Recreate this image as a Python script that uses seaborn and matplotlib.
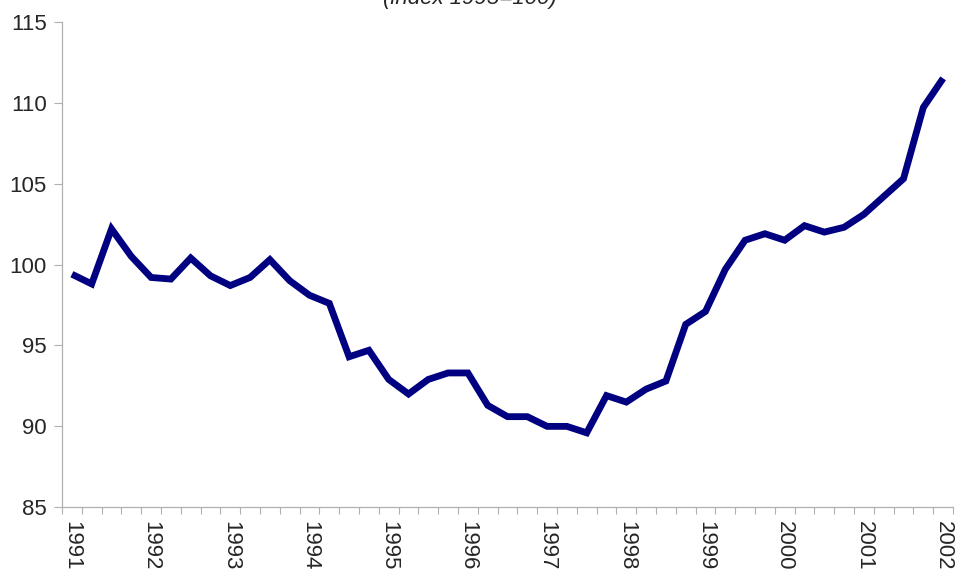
import matplotlib
matplotlib.use("Agg")
import matplotlib.pyplot as plt
import seaborn as sns
import pandas as pd
import numpy as np
from matplotlib.ticker import FixedLocator

# Quarterly index values, 1991Q1 - 2002Q1 (1995=100)
years = list(range(1991, 2003))
index_values = [
    99.4, 98.8, 102.2, 100.5, 99.2, 99.1, 100.4, 99.3,   # 1991-1992
    98.7, 99.2, 100.3, 99.0, 98.1, 97.6, 94.3, 94.7,     # 1993-1994
    92.9, 92.0, 92.9, 93.3, 93.3, 91.3, 90.6, 90.6,      # 1995-1996
    90.0, 90.0, 89.6, 91.9, 91.5, 92.3, 92.8, 96.3,      # 1997-1998
    97.1, 99.7, 101.5, 101.9, 101.5, 102.4, 102.0, 102.3,  # 1999-2000
    103.1, 104.2, 105.3, 109.7, 111.5,                    # 2001-2002Q1
]
title_text = "(index 1995=100)"
y_ticks = [85, 90, 95, 100, 105, 110, 115]

df = pd.DataFrame({"q": np.arange(len(index_values)), "value": index_values})

sns.set_style("white")
plt.rcParams["font.family"] = ["Liberation Sans", "DejaVu Sans"]

fig = plt.figure(figsize=(9.61, 5.70), dpi=100)
ax = fig.add_axes([62 / 961, 62.7 / 570, (953 - 62) / 961, (507.3 - 21.7) / 570])

sns.lineplot(data=df, x="q", y="value", ax=ax, color="#000080",
             linewidth=4.9, solid_joinstyle="miter", solid_capstyle="butt")

ax.set_xlim(-0.5, len(index_values) - 0.5)
ax.set_ylim(85, 115)
ax.set_yticks(y_ticks)
ax.set_yticklabels([str(t) for t in y_ticks])

# tick marks on quarter boundaries, year labels under each Q1
ax.xaxis.set_major_locator(FixedLocator(np.arange(-0.5, len(index_values), 1.0)))
ax.set_xticklabels([])
ax.xaxis.set_minor_locator(FixedLocator([4 * i for i in range(len(years))]))
ax.set_xticklabels([str(y) for y in years], minor=True, rotation=-90,
                   fontsize=16, va="top", ha="center")
ax.tick_params(axis="x", which="major", direction="out", length=5, width=0.8,
               color="#b0b0b0", bottom=True)
ax.tick_params(axis="x", which="minor", length=0, pad=10, bottom=True)
ax.tick_params(axis="y", direction="out", length=6, width=0.8, color="#b0b0b0",
               labelsize=16, pad=5, left=True)

for side in ("top", "right"):
    ax.spines[side].set_visible(False)
for side in ("left", "bottom"):
    ax.spines[side].set_color("#b0b0b0")
    ax.spines[side].set_linewidth(0.9)

ax.set_xlabel("")
ax.set_ylabel("")
ax.grid(False)

fig.text(470 / 961, 1 - 4 / 570, title_text, ha="center", va="baseline",
         fontsize=16, fontstyle="italic")

fig.savefig("out.png", dpi=100)
